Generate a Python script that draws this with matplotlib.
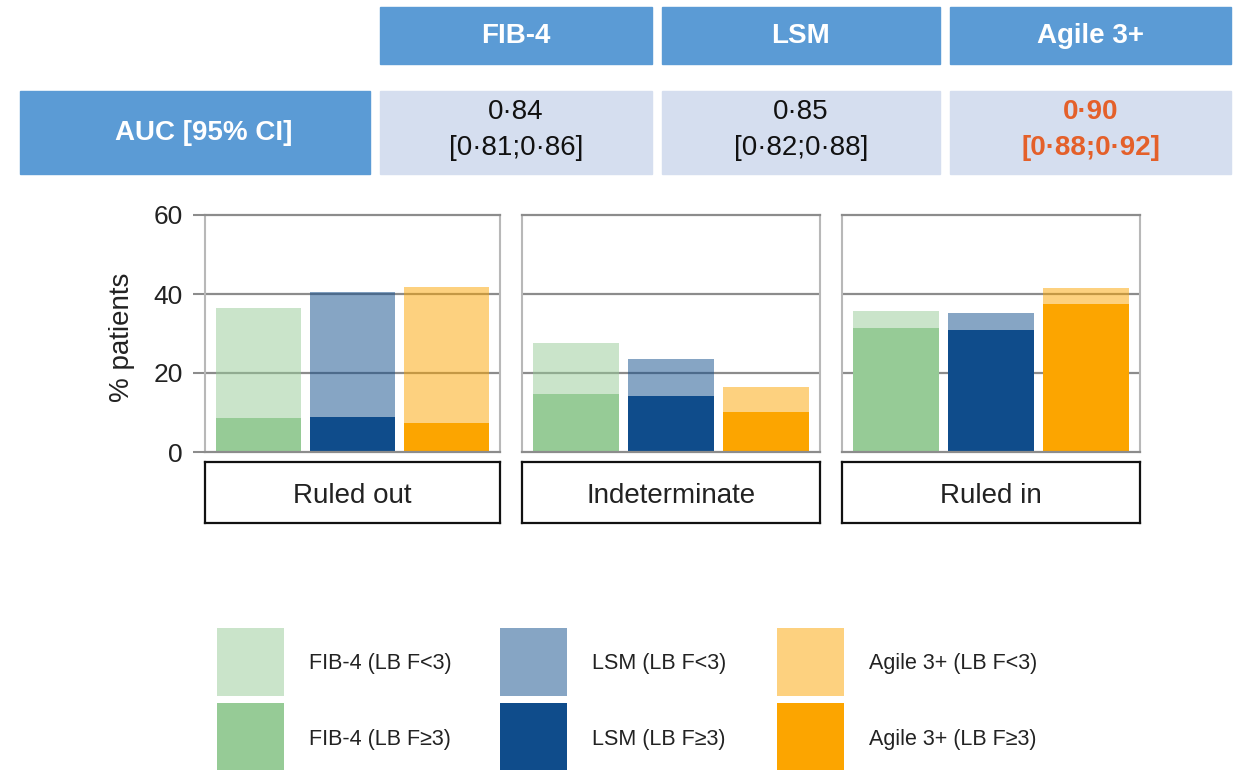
import matplotlib
matplotlib.use("Agg")
import matplotlib.pyplot as plt
from matplotlib.patches import Rectangle

plt.rcParams['font.family'] = ['Liberation Sans', 'DejaVu Sans']

# diagnostic methods and their AUC
methods = ['FIB-4', 'LSM', 'Agile 3+']
auc = ['0·84', '0·85', '0·90']
auc_ci = ['[0·81;0·86]', '[0·82;0·88]', '[0·88;0·92]']

categories = ['Ruled out', 'Indeterminate', 'Ruled in']

# % patients per category, split by liver biopsy stage
fib4_hi = [8.6, 14.6, 31.4]    # LB F>=3
fib4_lo = [27.9, 13.0, 4.4]    # LB F<3
lsm_hi = [8.9, 14.2, 31.0]
lsm_lo = [31.6, 9.3, 4.2]
agile_hi = [7.3, 10.2, 37.5]
agile_lo = [34.5, 6.2, 4.1]

hi_vals = [fib4_hi, lsm_hi, agile_hi]
lo_vals = [fib4_lo, lsm_lo, agile_lo]
colors = ['#96cb96', '#0f4c8b', '#fca500']

yticks = [0, 20, 40, 60]

W, H = 1243, 770
fig = plt.figure(figsize=(W / 100, H / 100), dpi=100)


def box(x0, y0, x1, y1):
    return [x0 / W, 1 - y1 / H, (x1 - x0) / W, (y1 - y0) / H]


bg = fig.add_axes([0, 0, 1, 1])
bg.set_xlim(0, W)
bg.set_ylim(H, 0)
bg.axis('off')

head_blue = '#5b9bd5'
cell_blue = '#d5deef'
hi_orange = '#e4602a'
grid_col = '#8c8c8c'

# table: header row + AUC row
col_x = [(380, 652), (662, 940), (950, 1231)]
for i, (x0, x1) in enumerate(col_x):
    bg.add_patch(Rectangle((x0, 7), x1 - x0, 57, color=head_blue))
    bg.text((x0 + x1) / 2, 36, methods[i], ha='center', va='center',
            color='white', fontsize=20, fontweight='bold')
    bg.add_patch(Rectangle((x0, 91), x1 - x0, 83, color=cell_blue))
    best = i == 2
    tc = hi_orange if best else '#111111'
    fw = 'bold' if best else 'normal'
    bg.text((x0 + x1) / 2, 112, auc[i], ha='center', va='center',
            color=tc, fontsize=20, fontweight=fw)
    bg.text((x0 + x1) / 2, 148, auc_ci[i], ha='center', va='center',
            color=tc, fontsize=20, fontweight=fw)
bg.add_patch(Rectangle((20, 91), 350, 83, color=head_blue))
bg.text(204, 133, 'AUC [95% CI]', ha='center', va='center',
        color='white', fontsize=20, fontweight='bold')

# facet panels
panel_x = [(205, 500), (522, 820), (842, 1140)]
for j, (x0, x1) in enumerate(panel_x):
    ax = fig.add_axes(box(x0, 215, x1, 452))
    ax.set_zorder(2)
    for yv in yticks[1:-1]:
        ax.axhline(yv, color=grid_col, lw=1.6, zorder=0)
    for i in range(3):
        ax.bar(i, hi_vals[i][j], width=0.9, color=colors[i], zorder=2)
        ax.bar(i, lo_vals[i][j], width=0.9, bottom=hi_vals[i][j],
               color=colors[i], alpha=0.5, lw=0, zorder=1)
    ax.set_xlim(-0.57, 2.57)
    ax.set_ylim(0, 60)
    ax.set_xticks([])
    for side, s in ax.spines.items():
        if side in ('top', 'bottom'):
            s.set_color(grid_col)
            s.set_linewidth(1.6)
        else:
            s.set_color('#b8b8b8')
            s.set_linewidth(1.5)
    if j == 0:
        ax.set_yticks(yticks)
        ax.tick_params(axis='y', length=9, width=1.5, color=grid_col,
                       labelsize=19, labelcolor='#222222', pad=7)
    else:
        ax.set_yticks([])

    strip = fig.add_axes(box(x0, 462, x1, 523))
    strip.set_xticks([])
    strip.set_yticks([])
    for s in strip.spines.values():
        s.set_color('#111111')
        s.set_linewidth(1.6)
    strip.text(0.5, 0.45, categories[j], ha='center', va='center',
               fontsize=20, color='#222222', transform=strip.transAxes)

bg.text(122, 337, '% patients', rotation=90, ha='center', va='center',
        fontsize=20, color='#222222')

# legend
leg_x = [217, 500, 777]
for i, lx in enumerate(leg_x):
    bg.add_patch(Rectangle((lx, 628), 67, 68, color=colors[i], alpha=0.5, lw=0))
    bg.add_patch(Rectangle((lx, 703), 67, 67, color=colors[i], lw=0))
    bg.text(lx + 92, 663, methods[i] + ' (LB F<3)', ha='left', va='center',
            fontsize=15.5, color='#222222')
    bg.text(lx + 92, 739, methods[i] + ' (LB F≥3)', ha='left', va='center',
            fontsize=15.5, color='#222222')

fig.savefig('out.png', dpi=100)
